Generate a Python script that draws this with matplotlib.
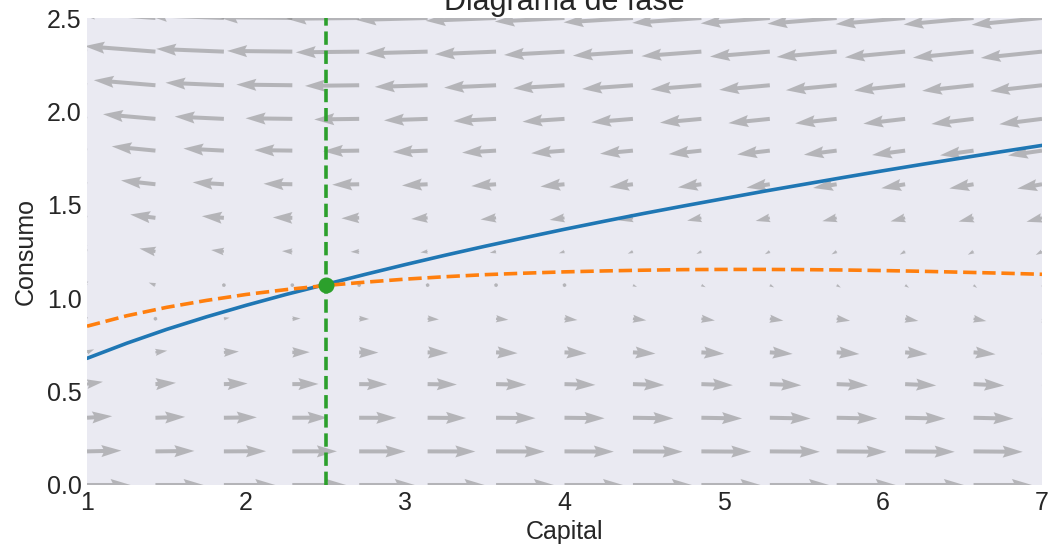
import numpy as np
import matplotlib
matplotlib.use("Agg")
import matplotlib.pyplot as plt
import seaborn as sns

# ---- data ----
k_grid = [1.0, 1.43, 1.86, 2.29, 2.71, 3.14, 3.57, 4.0, 4.43, 4.86, 5.29, 5.71, 6.14, 6.57, 7.0]
c_grid = [0.0, 0.18, 0.36, 0.54, 0.71, 0.89, 1.07, 1.25, 1.43, 1.61, 1.79, 1.96, 2.14, 2.32, 2.5]
# level of the k-dot = 0 locus at each grid column (horizontal drift = locus - c)
kdot_locus_at_grid = [0.850, 0.939, 1.002, 1.049, 1.084, 1.110, 1.128, 1.141, 1.149,
                      1.153, 1.154, 1.151, 1.146, 1.138, 1.128]
# relative consumption growth at each grid column (vertical drift = c * growth)
c_growth_at_grid = [0.085, 0.046, 0.023, 0.006, -0.006, -0.015, -0.022, -0.028, -0.034,
                    -0.038, -0.042, -0.045, -0.048, -0.051, -0.053]

k_curve = [1.0, 1.25, 1.5, 1.75, 2.0, 2.25, 2.5, 2.75, 3.0, 3.25, 3.5, 3.75, 4.0,
           4.25, 4.5, 4.75, 5.0, 5.25, 5.5, 5.75, 6.0, 6.25, 6.5, 6.75, 7.0]
saddle_path = [0.678, 0.759, 0.833, 0.900, 0.962, 1.020, 1.074, 1.128, 1.180, 1.230,
               1.278, 1.324, 1.369, 1.412, 1.454, 1.494, 1.533, 1.572, 1.609, 1.646,
               1.682, 1.717, 1.751, 1.785, 1.818]
kdot_zero = [0.850, 0.906, 0.951, 0.988, 1.020, 1.046, 1.068, 1.086, 1.102, 1.115,
             1.126, 1.134, 1.141, 1.146, 1.150, 1.153, 1.154, 1.154, 1.153, 1.151,
             1.148, 1.144, 1.139, 1.134, 1.128]
k_star = 2.5
c_star = 1.07

sns.set_style("dark")
plt.rcParams['font.family'] = ['Liberation Sans', 'DejaVu Sans']

fig = plt.figure(figsize=(10.5, 5.48), dpi=100)
ax = fig.add_axes([87/1050, 63/548, 955/1050, 467/548])

K, C = np.meshgrid(np.array(k_grid), np.array(c_grid))
U = np.array(kdot_locus_at_grid)[None, :] - C
V = C * np.array(c_growth_at_grid)[None, :]
ax.quiver(K, C, U, V, color='gray', alpha=0.5, scale=18.6, scale_units='width',
          width=0.0042)

ax.plot(k_curve, saddle_path, color='#1f77b4', lw=2.6)
ax.plot(k_curve, kdot_zero, color='#ff7f0e', lw=2.6, ls='--')
ax.axvline(k_star, color='#2ca02c', lw=2.6, ls='--')
ax.plot([k_star], [c_star], 'o', color='#2ca02c', ms=10.5)

ax.set_xlim(1, 7)
ax.set_ylim(0, 2.5)
ax.set_xticks([1, 2, 3, 4, 5, 6, 7])
ax.set_yticks([0.0, 0.5, 1.0, 1.5, 2.0, 2.5])
ax.set_yticklabels(['0.0', '0.5', '1.0', '1.5', '2.0', '2.5'])
ax.tick_params(labelsize=18, pad=4, length=0)
ax.set_xlabel('Capital', fontsize=18, labelpad=4)
ax.set_ylabel('Consumo', fontsize=18, labelpad=6)
ax.set_title('Diagrama de fase', fontsize=22, pad=6)
for s in ax.spines.values():
    s.set_visible(False)

fig.savefig('out.png', dpi=100)
